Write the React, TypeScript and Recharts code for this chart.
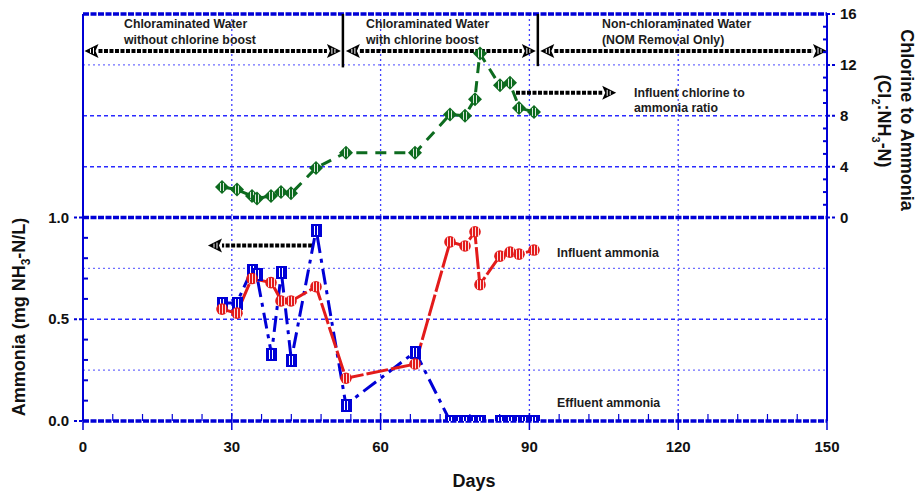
import { LineChart, Line, XAxis, YAxis, ReferenceLine } from "recharts";

// days and values
const influentDays = [28, 31, 34, 38, 40, 42, 47, 53, 67, 74, 77, 79, 80, 84, 86, 88, 91];
const influentAmmonia = [0.55, 0.53, 0.7, 0.68, 0.59, 0.59, 0.66, 0.21, 0.28, 0.88, 0.86, 0.93, 0.67, 0.81, 0.83, 0.82, 0.84];

const effluentDays = [28, 31, 34, 35, 38, 40, 42, 47, 53, 67, 74, 76, 77, 79, 80, 84, 86, 88, 89, 91];
const effluentAmmonia = [0.58, 0.58, 0.74, 0.72, 0.33, 0.73, 0.3, 0.94, 0.08, 0.34, 0, 0, 0, 0, 0, 0, 0, 0, 0, 0];

const ratioDays = [28, 31, 34, 35, 38, 40, 42, 47, 53, 67, 74, 77, 79, 80, 84, 86, 88, 91];
const clNh3Ratio = [2.4, 2.2, 1.7, 1.5, 1.7, 2.0, 1.9, 3.9, 5.1, 5.1, 8.1, 8.0, 9.3, 12.9, 10.4, 10.6, 8.6, 8.3];

const xTicks = [0, 6, 12, 18, 24, 30, 36, 42, 48, 54, 60, 66, 72, 78, 84, 90, 96, 102, 108, 114, 120, 126, 132, 138, 144, 150];
const xLabels = [0, 30, 60, 90, 120, 150];
const leftTicks = [0, 0.1, 0.2, 0.3, 0.4, 0.5, 0.6, 0.7, 0.8, 0.9, 1.0];
const leftLabels = [0, 0.5, 1.0];
const rightTicks = [0, 1, 2, 3, 4, 5, 6, 7, 8, 9, 10, 11, 12, 13, 14, 15, 16];
const rightLabels = [0, 4, 8, 12, 16];

const heavyGrid = [0, 1, 2];
const mediumGrid = [0.5, 1.25, 1.5];
const lightGrid = [0.25, 0.75, 1.75];
const dayGrid = [30, 60, 90, 120];

const influent = influentDays.map((day, i) => ({ day, value: influentAmmonia[i] }));
const effluent = effluentDays.map((day, i) => ({ day, value: effluentAmmonia[i] }));
const ratio = ratioDays.map((day, i) => ({ day, value: clNh3Ratio[i] }));

const BLUE = "#0000d6";
const RED = "#e31b1b";
const GREEN = "#0d6b1f";
const FONT = "'Liberation Sans', Arial, sans-serif";
const PLOT_LEFT = 83;
const PLOT_RIGHT = 827;
const PLOT_TOP = 14;
const PLOT_BOTTOM = 421;

const RedDot = (p: any) => {
  if (p.cx == null || p.cy == null) return null;
  const cx = Math.round(p.cx);
  const cy = p.cy;
  return (
    <g>
      <circle cx={cx} cy={cy} r={5.8} fill={RED} />
      {[-3, 0, 3].map((d) => (
        <rect key={d} x={cx + d} y={cy - 4.5} width={1} height={9} fill="#fff" opacity={0.85} />
      ))}
    </g>
  );
};

const BlueSquare = (p: any) => {
  if (p.cx == null || p.cy == null) return null;
  const cx = Math.round(p.cx);
  const cy = Math.round(p.cy);
  return (
    <g>
      <rect x={cx - 5} y={cy - 6} width={11} height={13} fill={BLUE} />
      {[-2, 1].map((d) => (
        <rect key={d} x={cx + d} y={cy - 4} width={1} height={9} fill="#fff" />
      ))}
    </g>
  );
};

const GreenDiamond = (p: any) => {
  if (p.cx == null || p.cy == null) return null;
  const cx = Math.round(p.cx);
  const cy = p.cy;
  return (
    <g>
      <polygon points={`${cx},${cy - 7} ${cx + 7},${cy} ${cx},${cy + 7} ${cx - 7},${cy}`} fill={GREEN} />
      {[-2, 1].map((d) => (
        <rect key={d} x={cx + d} y={cy - 4} width={1} height={8} fill="#fff" opacity={0.85} />
      ))}
    </g>
  );
};

const makeArrow = (startHead: boolean, endHead: boolean) => (p: any) => {
  const { x1, y1, x2 } = p;
  const dir = x2 > x1 ? 1 : -1;
  const L = 14;
  const hw = 7;
  const sx = x1 + (startHead ? dir * L : 0);
  const ex = x2 - (endHead ? dir * L : 0);
  const head = (tip: number, d: number) => {
    const base = tip - d * L;
    return (
      <g>
        <polygon points={`${tip},${y1} ${base},${y1 - hw} ${base + d * 3},${y1} ${base},${y1 + hw}`} fill="#000" />
        <line x1={base + d * 5} x2={base + d * 5} y1={y1 - 3} y2={y1 + 3} stroke="#fff" strokeWidth={1} />
        <line x1={base + d * 8} x2={base + d * 8} y1={y1 - 2} y2={y1 + 2} stroke="#fff" strokeWidth={1} />
      </g>
    );
  };
  return (
    <g>
      <line x1={sx} x2={ex} y1={y1} y2={y1} stroke="#000" strokeWidth={4} strokeDasharray="4 1.5" />
      {startHead && head(x1, -dir)}
      {endHead && head(x2, dir)}
    </g>
  );
};

const XTick = (p: any) => {
  const x = p.x;
  const v = p.payload.value;
  const major = xLabels.includes(v);
  return (
    <g>
      {major ? (
        <line x1={x} x2={x} y1={PLOT_BOTTOM - 8} y2={PLOT_BOTTOM + 9} stroke={BLUE} strokeWidth={1.5} />
      ) : (
        <line x1={x} x2={x} y1={PLOT_BOTTOM - 7} y2={PLOT_BOTTOM} stroke={BLUE} strokeWidth={1.2} />
      )}
      {major && (
        <text x={x} y={452} textAnchor="middle" fontFamily={FONT} fontWeight="bold" fontSize={15} fill="#111">
          {v}
        </text>
      )}
    </g>
  );
};

const LeftTick = (p: any) => {
  const y = p.y;
  const v = p.payload.value;
  const major = leftLabels.some((l) => Math.abs(l - v) < 1e-6);
  return (
    <g>
      {major ? (
        <line x1={PLOT_LEFT - 9} x2={PLOT_LEFT} y1={y} y2={y} stroke={BLUE} strokeWidth={2} strokeDasharray="3 2" />
      ) : (
        <line x1={PLOT_LEFT} x2={PLOT_LEFT + 5} y1={y} y2={y} stroke={BLUE} strokeWidth={2} />
      )}
      {major && (
        <text x={69} y={y + 5} textAnchor="end" fontFamily={FONT} fontWeight="bold" fontSize={15} fill="#111">
          {v.toFixed(1)}
        </text>
      )}
    </g>
  );
};

const RightTick = (p: any) => {
  const y = p.y;
  const v = p.payload.value;
  const major = rightLabels.includes(v);
  return (
    <g>
      {major ? (
        <line x1={PLOT_RIGHT} x2={PLOT_RIGHT + 9} y1={y} y2={y} stroke={BLUE} strokeWidth={2} strokeDasharray="3 2" />
      ) : (
        <line x1={PLOT_RIGHT - 4} x2={PLOT_RIGHT} y1={y} y2={y} stroke={BLUE} strokeWidth={2} />
      )}
      {major && (
        <text x={840} y={y + 5} textAnchor="start" fontFamily={FONT} fontWeight="bold" fontSize={15} fill="#111">
          {v}
        </text>
      )}
    </g>
  );
};

const note = { fontFamily: FONT, fontWeight: "bold" as const, fontSize: 12.3, fill: "#1c1c1c" };
const title = { fontFamily: FONT, fontWeight: "bold" as const, fontSize: 18, fill: "#111", textAnchor: "middle" as const };

export default function App() {
  return (
    <div style={{ position: "absolute", left: 0, top: 0, width: 916, height: 493, background: "#fff" }}>
      <LineChart width={916} height={493} margin={{ top: PLOT_TOP, right: 0, bottom: 0, left: 0 }}>
        <XAxis
          type="number"
          dataKey="day"
          domain={[0, 150]}
          ticks={xTicks}
          height={72}
          axisLine={false}
          tickLine={false}
          tickSize={0}
          tickMargin={0}
          tick={<XTick />}
          interval={0}
          allowDataOverflow
        />
        <YAxis
          yAxisId="left"
          domain={[0, 2]}
          ticks={leftTicks}
          width={83}
          axisLine={{ stroke: BLUE, strokeWidth: 2 }}
          tickLine={false}
          tick={<LeftTick />}
          interval={0}
          allowDataOverflow
        />
        <YAxis
          yAxisId="right"
          orientation="right"
          domain={[-16, 16]}
          ticks={rightTicks}
          width={89}
          axisLine={{ stroke: BLUE, strokeWidth: 2 }}
          tickLine={false}
          tick={<RightTick />}
          interval={0}
          allowDataOverflow
        />

        {lightGrid.map((v) => (
          <ReferenceLine key={"l" + v} yAxisId="left" y={v} stroke="#6f6fff" strokeWidth={1.3} strokeDasharray="2 3" />
        ))}
        {mediumGrid.map((v) => (
          <ReferenceLine key={"m" + v} yAxisId="left" y={v} stroke="#2a2aff" strokeWidth={1.5} strokeDasharray="4 3" />
        ))}
        {dayGrid.map((d) => (
          <ReferenceLine key={"d" + d} yAxisId="left" x={d} stroke="#4040ff" strokeWidth={1.3} strokeDasharray="2 3" />
        ))}
        {heavyGrid.map((v) => (
          <ReferenceLine key={"h" + v} yAxisId="left" y={v} stroke={BLUE} strokeWidth={3.5} strokeDasharray="6 1.5" />
        ))}

        {/* period separators and arrows */}
        <ReferenceLine yAxisId="right" segment={[{ x: 52.4, y: 16 }, { x: 52.4, y: 11.8 }]} stroke="#000" strokeWidth={2.5} />
        <ReferenceLine yAxisId="right" segment={[{ x: 91.7, y: 16 }, { x: 91.7, y: 11.9 }]} stroke="#000" strokeWidth={2.5} />
        <ReferenceLine yAxisId="right" segment={[{ x: 0.3, y: 13.1 }, { x: 52, y: 13.1 }]} shape={makeArrow(true, true)} />
        <ReferenceLine yAxisId="right" segment={[{ x: 53, y: 13.1 }, { x: 91.3, y: 13.1 }]} shape={makeArrow(true, true)} />
        <ReferenceLine yAxisId="right" segment={[{ x: 92.2, y: 13.1 }, { x: 150, y: 13.1 }]} shape={makeArrow(true, true)} />
        <ReferenceLine yAxisId="right" segment={[{ x: 87.3, y: 9.8 }, { x: 107.5, y: 9.8 }]} shape={makeArrow(false, true)} />
        <ReferenceLine yAxisId="left" segment={[{ x: 46.2, y: 0.862 }, { x: 25.2, y: 0.862 }]} shape={makeArrow(false, true)} />

        <Line
          yAxisId="left"
          data={effluent}
          dataKey="value"
          stroke={BLUE}
          strokeWidth={3}
          strokeDasharray="16 6 4 6"
          dot={<BlueSquare />}
          activeDot={false}
          isAnimationActive={false}
        />
        <Line
          yAxisId="left"
          data={influent}
          dataKey="value"
          stroke={RED}
          strokeWidth={3}
          strokeDasharray="22 3"
          dot={<RedDot />}
          activeDot={false}
          isAnimationActive={false}
        />
        <Line
          yAxisId="right"
          data={ratio}
          dataKey="value"
          stroke={GREEN}
          strokeWidth={3}
          strokeDasharray="11 8"
          dot={<GreenDiamond />}
          activeDot={false}
          isAnimationActive={false}
        />
      </LineChart>

      <svg width={916} height={493} style={{ position: "absolute", left: 0, top: 0, pointerEvents: "none" }}>
        <text x={124} y={28} {...note}>Chloraminated Water</text>
        <text x={124} y={44} {...note}>without chlorine boost</text>
        <text x={366} y={28} {...note}>Chloraminated Water</text>
        <text x={366} y={44} {...note}>with chlorine boost</text>
        <text x={602} y={28} {...note}>Non-chloraminated Water</text>
        <text x={602} y={44} {...note}>(NOM Removal Only)</text>
        <text x={634} y={97} {...note}>Influent chlorine to</text>
        <text x={634} y={112} {...note}>ammonia ratio</text>
        <text x={557} y={257} {...note}>Influent ammonia</text>
        <text x={557} y={407} {...note}>Effluent ammonia</text>

        <text x={474} y={487} {...title}>Days</text>
        <text transform="translate(25,317) rotate(-90)" {...title}>
          Ammonia (mg NH<tspan fontSize={12} dy={5}>3</tspan>
          <tspan dy={-5}>-N/L)</tspan>
        </text>
        <text transform="translate(901,120) rotate(90)" {...title}>
          Chlorine to Ammonia
        </text>
        <text transform="translate(878,121) rotate(90)" {...title}>
          (Cl<tspan fontSize={11} dy={6}>2</tspan>
          <tspan dy={-6}>:NH</tspan>
          <tspan fontSize={11} dy={6}>3</tspan>
          <tspan dy={-6}>-N)</tspan>
        </text>
      </svg>
    </div>
  );
}
